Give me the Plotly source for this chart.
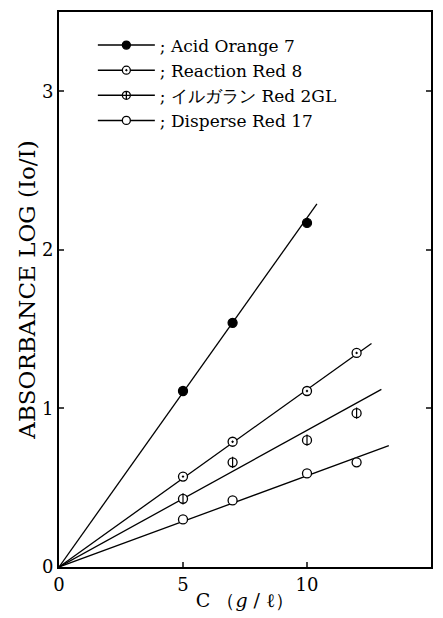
import plotly.graph_objects as go

# Data
conc = [5, 7, 10, 12]
acid_orange_x = [5, 7, 10]
acid_orange_y = [1.11, 1.54, 2.17]
reaction_red_y = [0.57, 0.79, 1.11, 1.35]
irgalan_red_y = [0.43, 0.66, 0.80, 0.97]
disperse_red_y = [0.30, 0.42, 0.59, 0.66]

# Fitted lines through the origin: (x_end, y_end)
fit_x = [[0, 10.4], [0, 12.6], [0, 13.0], [0, 13.3]]
fit_y = [[0, 2.29], [0, 1.41], [0, 1.12], [0, 0.765]]

names = ["; Acid Orange 7", "; Reaction Red 8", "; イルガラン Red 2GL", "; Disperse Red 17"]

FONT = "DejaVu Serif, Liberation Serif, serif"
fig = go.Figure()

# fitted lines
for fx, fy in zip(fit_x, fit_y):
    fig.add_trace(go.Scatter(x=fx, y=fy, mode="lines", line=dict(color="black", width=1.3),
                             showlegend=False, hoverinfo="skip"))

mk = dict(size=9, line=dict(color="black", width=1.3))
# markers
fig.add_trace(go.Scatter(x=acid_orange_x, y=acid_orange_y, mode="markers",
                         marker=dict(symbol="circle", color="black", **mk), showlegend=False))
fig.add_trace(go.Scatter(x=conc, y=reaction_red_y, mode="markers",
                         marker=dict(symbol="circle-dot", color="white", **mk), showlegend=False))
fig.add_trace(go.Scatter(x=conc, y=irgalan_red_y, mode="markers",
                         marker=dict(symbol="circle", color="white", **mk), showlegend=False))
fig.add_trace(go.Scatter(x=conc, y=irgalan_red_y, mode="markers",
                         marker=dict(symbol="line-ns", size=8, line=dict(color="black", width=1.2)),
                         showlegend=False))
fig.add_trace(go.Scatter(x=conc, y=disperse_red_y, mode="markers",
                         marker=dict(symbol="circle", color="white", **mk), showlegend=False))

# legend entries
leg_syms = [("circle", "black"), ("circle-dot", "white"), ("circle-cross", "white"), ("circle", "white")]
for (sym, col), nm in zip(leg_syms, names):
    fig.add_trace(go.Scatter(x=[None], y=[None], mode="lines+markers", name=nm,
                             line=dict(color="black", width=1.5),
                             marker=dict(symbol=sym, color=col, size=8,
                                         line=dict(color="black", width=1.3))))

fig.update_layout(
    width=443, height=618,
    margin=dict(l=59, r=10, t=10, b=50),
    paper_bgcolor="white", plot_bgcolor="white",
    font=dict(family=FONT, size=16, color="black"),
    legend=dict(x=0.091, y=0.972, xanchor="left", yanchor="top",
                bgcolor="rgba(0,0,0,0)", font=dict(size=17, family=FONT),
                tracegroupgap=0, itemwidth=57),
    showlegend=True,
)
fig.update_xaxes(range=[0, 15], tickvals=[0, 5, 10], ticks="inside", ticklen=5, tickwidth=1.5,
                 showline=True, linewidth=2, linecolor="black", mirror=True, showgrid=False,
                 zeroline=False, tickfont=dict(size=18, family=FONT),
                 title=dict(text="C （<i>g</i> / ℓ）", font=dict(size=19, family=FONT), standoff=0))
fig.update_yaxes(range=[0, 3.5], tickvals=[0, 1, 2, 3], ticks="inside", ticklen=5, tickwidth=1.5,
                 showline=True, linewidth=2, linecolor="black", mirror="ticks", showgrid=False,
                 zeroline=False, tickfont=dict(size=18, family=FONT),
                 title=dict(text="ABSORBANCE LOG (Io/I)", font=dict(size=23, family=FONT), standoff=0))

fig.write_html("out.html")
